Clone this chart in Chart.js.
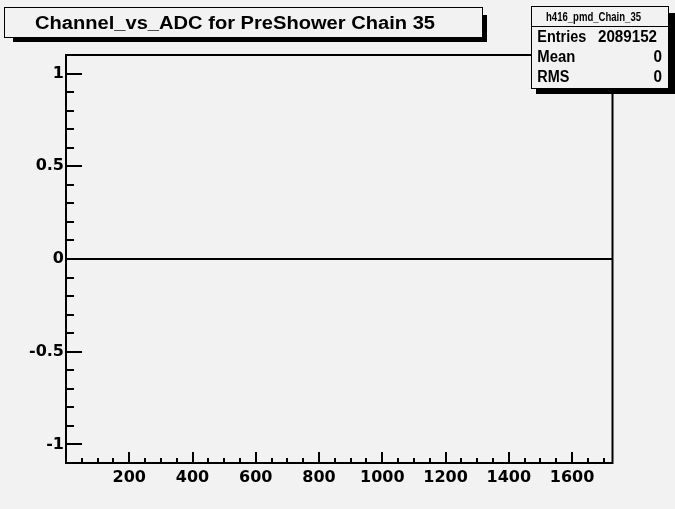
<!DOCTYPE html>
<html>
<head>
<meta charset="utf-8">
<script src="https://cdn.jsdelivr.net/npm/chart.js@4"></script>
<style>
  html, body { margin: 0; padding: 0; background: #f2f2f2; }
</style>
</head>
<body>
<canvas id="c" width="675" height="509"></canvas>
<script>
// ===== DATA =====
const histName = 'h416_pmd_Chain_35';
const titleText = 'Channel_vs_ADC for PreShower Chain 35';
const channelEdges = [0, 1728];   // histogram range (channels)
const binContents = [0, 0];       // every bin is empty
const statLabels = ['Entries', 'Mean', 'RMS'];
const statValues = ['2089152', '0', '0'];
const xTickValues = [200, 400, 600, 800, 1000, 1200, 1400, 1600];
const yTickValues = [-1, -0.5, 0, 0.5, 1];
const yRange = [-1.1, 1.1];

const BG = '#f2f2f2';

// draw text squeezed/stretched to a given width
function fitText(ctx, text, x, y, w, align) {
  const m = ctx.measureText(text).width;
  ctx.save();
  const left = align === 'right' ? x - w : (align === 'center' ? x - w / 2 : x);
  ctx.translate(left, y);
  ctx.scale(w / m, 1);
  ctx.textAlign = 'left';
  ctx.fillText(text, 0, 0);
  ctx.restore();
}

// box with a ROOT style drop shadow
function shadowBox(ctx, box, shadow) {
  ctx.fillStyle = '#000';
  ctx.fillRect(shadow[0], shadow[1], shadow[2] - shadow[0], shadow[3] - shadow[1]);
  ctx.fillStyle = BG;
  ctx.fillRect(box[0], box[1], box[2] - box[0], box[3] - box[1]);
  ctx.strokeStyle = '#000';
  ctx.lineWidth = 1;
  ctx.strokeRect(box[0] + 0.5, box[1] + 0.5, box[2] - box[0], box[3] - box[1]);
}

const rootFrame = {
  id: 'rootFrame',
  beforeDraw(chart) {
    const ctx = chart.ctx;
    ctx.save();
    ctx.fillStyle = BG;
    ctx.fillRect(0, 0, chart.width, chart.height);
    ctx.restore();
  },
  afterDraw(chart) {
    const ctx = chart.ctx;
    const a = chart.chartArea;
    const xs = chart.scales.x, ys = chart.scales.y;
    ctx.save();
    ctx.strokeStyle = '#000';
    ctx.lineWidth = 2;
    ctx.strokeRect(a.left, a.top, a.right - a.left, a.bottom - a.top);

    // inward ticks on x
    ctx.beginPath();
    for (let v = 50; v < channelEdges[1]; v += 50) {
      const px = Math.round(xs.getPixelForValue(v));
      const len = xTickValues.includes(v) ? 11 : 5;
      ctx.moveTo(px, a.bottom);
      ctx.lineTo(px, a.bottom - len);
    }
    ctx.stroke();

    // inward ticks on y
    ctx.beginPath();
    for (let i = -11; i <= 11; i++) {
      const py = Math.round(ys.getPixelForValue(i / 10));
      const len = (i % 5 === 0) ? 16 : 8;
      ctx.moveTo(a.left, py);
      ctx.lineTo(a.left + len, py);
    }
    ctx.stroke();

    // title box
    shadowBox(ctx, [4, 7, 482, 37], [13, 15, 487, 42]);
    ctx.fillStyle = '#000';
    ctx.font = 'bold 18px "Liberation Sans", Arial, sans-serif';
    fitText(ctx, titleText, 35, 29, 400, 'left');

    // stats box
    shadowBox(ctx, [531, 6, 668, 88], [536, 13, 675, 94]);
    ctx.beginPath();
    ctx.moveTo(531, 26.5);
    ctx.lineTo(668, 26.5);
    ctx.stroke();
    ctx.fillStyle = '#000';
    ctx.font = 'bold 12px "Liberation Sans", Arial, sans-serif';
    fitText(ctx, histName, 593.5, 20.5, 95, 'center');
    ctx.font = 'bold 16px "Liberation Sans", Arial, sans-serif';
    const labW = [49, 38, 32];
    const valR = [657, 662, 662];
    const valW = [59, 8.5, 8.5];
    statLabels.forEach((s, i) => {
      const base = 42.3 + i * 20;
      fitText(ctx, s, 537.3, base, labW[i], 'left');
      fitText(ctx, statValues[i], valR[i], base, valW[i], 'right');
    });
    ctx.restore();
  }
};

const tickFont = { family: '"DejaVu Sans", sans-serif', size: 16, weight: 'bold' };

new Chart(document.getElementById('c'), {
  type: 'scatter',
  data: {
    datasets: [{
      data: channelEdges.map((x, i) => ({ x, y: binContents[i] })),
      showLine: true,
      borderColor: '#000',
      borderWidth: 2,
      pointRadius: 0,
      fill: false
    }]
  },
  options: {
    responsive: false,
    animation: false,
    devicePixelRatio: 1,
    layout: { padding: { left: 0, top: 55, right: 62.5, bottom: 0 } },
    plugins: { legend: { display: false }, tooltip: { enabled: false } },
    scales: {
      x: {
        type: 'linear',
        min: channelEdges[0],
        max: channelEdges[1],
        grid: { display: false, drawTicks: false, tickLength: 0 },
        border: { display: false },
        afterBuildTicks: s => { s.ticks = xTickValues.map(v => ({ value: v })); },
        afterFit: s => { s.height = 46; },
        ticks: { font: tickFont, color: '#000', padding: 5, maxRotation: 0, autoSkip: false,
                 callback: v => String(v) }
      },
      y: {
        type: 'linear',
        min: yRange[0],
        max: yRange[1],
        grid: { display: false, drawTicks: false, tickLength: 0 },
        border: { display: false },
        afterBuildTicks: s => { s.ticks = yTickValues.map(v => ({ value: v })); },
        afterFit: s => { s.width = 66; },
        ticks: { font: tickFont, color: '#000', padding: 2, autoSkip: false,
                 callback: v => String(v) }
      }
    }
  },
  plugins: [rootFrame]
});
</script>
</body>
</html>
